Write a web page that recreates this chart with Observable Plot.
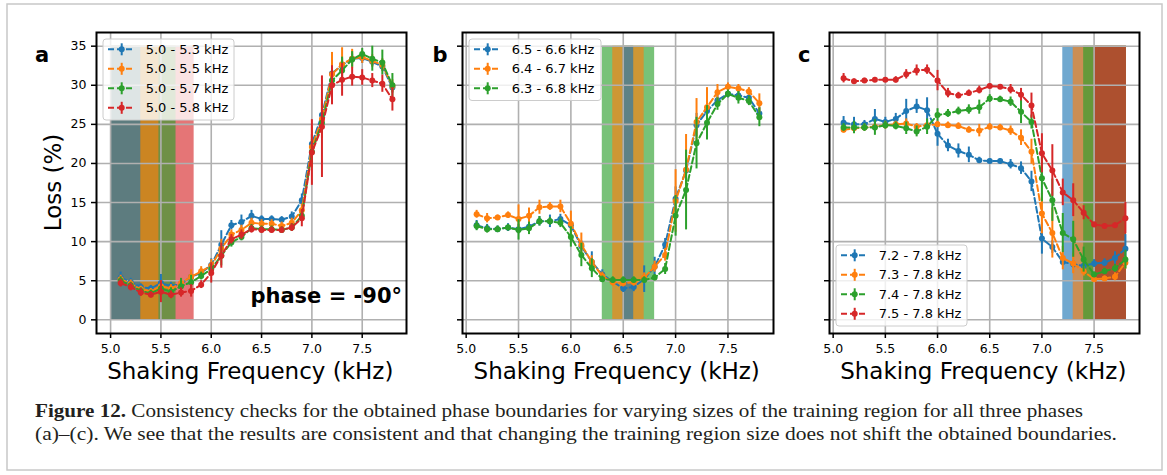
<!DOCTYPE html>
<html><head><meta charset="utf-8">
<script src="https://cdn.jsdelivr.net/npm/d3@7"></script>
<script src="https://cdn.jsdelivr.net/npm/@observablehq/plot@0.6"></script>
<style>
body{margin:0;background:#fff;}
#fig{position:relative;width:1167px;height:475px;overflow:hidden;background:#fff;}
#fig svg{position:absolute;}
</style></head><body><div id="fig"></div><script>
// ---------- data ----------
const freq = [5.1,5.2,5.3,5.4,5.5,5.6,5.7,5.8,5.9,6.0,6.1,6.2,6.3,6.4,6.5,6.6,6.7,6.8,6.9,7.0,7.1,7.2,7.3,7.4,7.5,7.6,7.7,7.8];
const xTicks = [5.0,5.5,6.0,6.5,7.0,7.5];
const yTicks = [0,5,10,15,20,25,30,35];
const colors = ["#1f77b4","#ff7f0e","#2ca02c","#d62728"];
const shadeLow = 0, shadeHigh = 35;

// panel a
const aSeries = ["5.0 - 5.3 kHz","5.0 - 5.5 kHz","5.0 - 5.7 kHz","5.0 - 5.8 kHz"];
const aRegionStart = [5.0,5.0,5.0,5.0];
const aRegionEnd = [5.3,5.48,5.65,5.83];
const aBlue   = [5.4,4.8,4.2,4.0,4.7,4.3,4.6,5.5,6.0,7.0,9.6,12.1,12.5,13.3,12.9,12.9,12.8,13.2,15.3,22.5,26.2,31.5,32.6,33.4,33.5,33.0,32.4,29.7];
const aBlueErr= [0.7,0.5,0.4,0.4,1.1,0.5,0.5,0.6,0.5,0.8,1.8,0.6,0.9,0.7,0.4,0.4,0.4,0.6,0.8,1.2,1.5,1.0,0.8,0.6,0.7,0.6,0.6,0.7];
const aOrange = [5.2,4.6,3.9,3.6,4.3,4.0,4.7,5.5,6.2,6.9,9.1,10.9,11.5,12.4,12.3,12.3,12.0,12.4,14.0,22.1,25.7,31.4,32.7,33.4,33.6,33.1,32.6,29.9];
const aOrangeErr=[0.5,0.5,0.4,0.4,0.7,0.5,0.6,0.9,0.6,0.8,1.2,0.6,0.6,0.6,0.5,0.5,0.5,0.6,0.8,2.6,2.5,2.8,2.1,1.2,0.8,0.8,0.8,0.8];
const aGreen  = [5.0,4.4,3.7,3.4,4.0,3.6,4.3,4.8,5.6,6.5,8.2,9.9,10.6,11.7,11.6,11.6,11.5,11.8,13.3,21.5,25.2,30.6,31.9,33.3,34.0,33.4,32.9,30.0];
const aGreenErr=[0.5,0.4,0.4,0.4,0.6,0.5,1.0,0.9,0.5,0.6,1.3,0.6,0.5,0.5,0.4,0.4,0.4,0.5,0.7,1.6,1.4,1.5,1.7,1.0,0.7,1.6,1.6,1.5];
const aRed    = [4.7,4.2,3.5,3.2,3.6,3.2,3.5,3.7,4.5,6.0,8.2,10.3,10.9,11.6,11.5,11.5,11.5,11.8,13.0,21.4,24.7,30.0,30.7,31.1,31.0,30.6,30.2,28.2];
const aRedErr = [0.5,0.5,0.5,0.4,1.4,0.5,0.6,0.8,0.5,1.3,1.6,0.6,0.6,0.5,0.4,0.4,0.4,0.5,1.1,4.2,6.5,2.5,2.1,1.2,1.0,0.9,1.1,1.5];

// panel b
const bSeries = ["6.5 - 6.6 kHz","6.4 - 6.7 kHz","6.3 - 6.8 kHz"];
const bRegionStart = [6.5,6.4,6.3];
const bRegionEnd = [6.6,6.7,6.8];
const bBlue   = [12.1,11.7,11.6,11.8,11.6,11.9,12.6,12.6,12.9,12.1,9.4,7.4,5.8,4.9,4.0,4.2,5.2,6.8,9.6,15.5,19.1,24.9,26.7,28.1,28.9,28.7,28.4,26.4];
const bBlueErr= [0.6,0.5,0.4,0.5,0.6,0.5,0.6,0.8,0.6,0.6,0.7,1.3,0.6,0.5,0.5,0.6,1.7,1.2,0.8,1.5,1.5,1.5,1.0,0.8,0.5,0.5,0.7,0.8];
const bOrange = [13.5,13.0,13.1,13.4,12.9,13.3,14.4,14.5,14.5,12.3,9.6,7.4,5.6,4.8,4.7,4.8,5.4,6.8,8.3,15.2,19.2,25.3,27.2,29.1,29.8,29.6,29.2,27.7];
const bOrangeErr=[0.5,0.6,0.3,0.4,1.8,1.0,0.9,0.5,0.8,1.6,1.5,0.8,0.5,0.5,0.5,0.5,0.6,0.7,0.8,4.0,4.5,3.0,2.5,1.0,0.5,0.5,0.5,1.2];
const bGreen  = [12.0,11.6,11.6,11.8,11.5,11.7,12.6,12.6,12.4,10.6,8.3,6.6,5.2,5.1,5.1,5.1,5.1,5.4,6.5,13.3,16.6,22.6,25.2,27.6,28.9,28.4,28.0,25.9];
const bGreenErr=[0.6,0.5,0.4,0.4,1.3,0.8,0.6,0.5,0.6,1.3,1.5,1.2,0.4,0.4,0.4,0.4,0.4,0.4,0.7,2.6,5.1,3.3,2.2,0.8,0.5,0.8,0.6,1.2];

// panel c
const cSeries = ["7.2 - 7.8 kHz","7.3 - 7.8 kHz","7.4 - 7.8 kHz","7.5 - 7.8 kHz"];
const cRegionStart = [7.2,7.3,7.4,7.5];
const cRegionEnd = [7.81,7.81,7.81,7.81];
const cBlue   = [25.2,25.0,25.0,25.7,25.3,25.7,26.7,27.3,26.8,23.8,22.3,21.6,21.1,20.4,20.3,20.3,19.9,19.4,17.7,10.4,9.3,7.4,7.1,6.9,7.2,7.3,7.9,9.1];
const cBlueErr= [0.8,0.9,0.5,1.2,0.6,0.7,1.5,0.9,1.6,1.6,0.8,0.9,1.0,0.4,0.3,0.3,0.6,0.8,1.3,2.0,0.8,0.5,0.5,0.4,0.5,0.5,0.8,1.8];
const cOrange = [24.3,24.5,24.6,24.7,24.9,25.0,25.1,24.7,24.9,25.0,24.9,24.8,24.3,24.2,24.7,24.6,24.2,23.3,21.5,13.6,11.1,7.9,7.2,6.2,5.2,5.3,5.5,7.3];
const cOrangeErr=[0.4,0.4,0.4,0.4,0.5,0.4,0.6,0.4,0.4,0.4,0.4,0.4,0.4,0.8,0.4,0.4,0.6,1.0,1.6,2.6,3.2,1.5,1.3,0.6,0.3,0.3,0.5,0.8];
const cGreen  = [24.6,24.6,24.6,24.6,24.9,24.8,24.5,24.1,24.7,26.2,26.4,26.7,26.9,27.2,28.3,28.2,27.9,26.6,25.3,18.1,15.3,11.1,10.3,7.7,5.8,6.2,6.6,7.7];
const cGreenErr=[0.5,0.8,0.5,1.0,0.5,0.5,0.8,0.7,1.0,0.8,0.5,0.5,0.6,0.9,0.5,0.4,0.6,1.5,0.9,3.0,2.7,2.5,2.3,1.6,0.3,0.4,0.5,1.2];
const cRed    = [30.9,30.5,30.6,30.7,30.7,30.7,31.4,31.9,32.0,30.6,29.0,28.7,29.0,29.4,29.9,29.8,29.5,28.8,27.4,21.3,19.1,16.3,15.3,13.7,12.2,12.0,12.1,13.0];
const cRedErr = [0.6,0.3,0.3,0.3,0.3,0.4,0.6,0.7,0.6,1.3,0.6,0.4,0.4,0.5,0.3,0.3,0.6,0.8,1.6,2.5,3.3,1.7,2.1,0.9,0.3,0.3,0.3,2.0];

// ---------- drawing ----------
const fig = document.getElementById("fig");
const yDomain = [-1.75, 36.75];

function makePanel(cfg) {
  const regions = cfg.series.map((s, i) => ({series: s, color: colors[i], x1: cfg.regionStart[i], x2: cfg.regionEnd[i], y1: shadeLow, y2: shadeHigh}))
    .sort((p, q) => (q.x2 - q.x1) - (p.x2 - p.x1));
  const seriesMarks = cfg.series.flatMap((s, i) => {
    const d = freq.map((f, j) => ({x: f, y: cfg.values[i][j], e: cfg.errors[i][j]}));
    return [
      Plot.line(d, {x: "x", y: "y", stroke: colors[i], strokeWidth: 2, strokeDasharray: "6,3"}),
      Plot.ruleX(d, {x: "x", y1: r => r.y - r.e, y2: r => r.y + r.e, stroke: colors[i], strokeWidth: 2}),
      Plot.dot(d, {x: "x", y: "y", r: 3, fill: colors[i], stroke: "none"})
    ];
  });
  const svg = Plot.plot({
    width: cfg.width, height: 380,
    marginLeft: cfg.ml, marginRight: cfg.mr, marginTop: 32, marginBottom: 47,
    style: {fontFamily: "DejaVu Sans", fontSize: "12.5px", background: "transparent", color: "#000", overflow: "visible"},
    x: {domain: cfg.xDomain},
    y: {domain: yDomain},
    color: {type: "identity"},
    marks: [
      Plot.rect(regions, {x1: "x1", x2: "x2", y1: "y1", y2: "y2", fill: "color", fillOpacity: 0.64}),
      Plot.gridX(xTicks, {stroke: "#b0b0b0", strokeOpacity: 1, strokeWidth: 1.6}),
      Plot.gridY(yTicks, {stroke: "#b0b0b0", strokeOpacity: 1, strokeWidth: 1.6}),
      ...seriesMarks,
      Plot.frame({stroke: "#000", strokeWidth: 2}),
      Plot.axisX(xTicks, {tickFormat: d3.format(".1f"), tickSize: 5, tickPadding: 6, label: null, strokeWidth: 1.5, fontSize: 12.5}),
      Plot.axisY(yTicks, {tickFormat: cfg.showY ? (d => String(d)) : (() => ""), tickSize: 5, tickPadding: 5, label: null, strokeWidth: 1.5, fontSize: 12.5})
    ]
  });
  svg.style.left = cfg.left + "px";
  svg.style.top = "0px";
  fig.appendChild(svg);
}

makePanel({left: 0, width: 420, ml: 96, mr: 14, xDomain: [4.86, 7.94], series: aSeries,
  regionStart: aRegionStart, regionEnd: aRegionEnd,
  values: [aBlue, aOrange, aGreen, aRed], errors: [aBlueErr, aOrangeErr, aGreenErr, aRedErr], showY: true});
makePanel({left: 420, width: 360, ml: 42, mr: 7, xDomain: [4.965, 7.935], series: bSeries,
  regionStart: bRegionStart, regionEnd: bRegionEnd,
  values: [bBlue, bOrange, bGreen], errors: [bBlueErr, bOrangeErr, bGreenErr], showY: false});
makePanel({left: 790, width: 360, ml: 39, mr: 11, xDomain: [4.965, 7.935], series: cSeries,
  regionStart: cRegionStart, regionEnd: cRegionEnd,
  values: [cBlue, cOrange, cGreen, cRed], errors: [cBlueErr, cOrangeErr, cGreenErr, cRedErr], showY: false});

// ---------- overlay: labels, legends, caption ----------
const ov = d3.select(fig).append("svg").attr("width", 1167).attr("height", 475)
  .style("left", "0px").style("top", "0px").style("font-family", "DejaVu Sans");

ov.append("rect").attr("x", 7).attr("y", 4).attr("width", 1155).attr("height", 466)
  .attr("fill", "none").attr("stroke", "#c8c8c8").attr("stroke-width", 1.5);

[["a", 35], ["b", 432.5], ["c", 798]].forEach(([t, x]) =>
  ov.append("text").attr("x", x).attr("y", 62).attr("font-size", 21).attr("font-weight", "bold").text(t));

ov.append("text").attr("transform", "translate(60.5,182.5) rotate(-90)").attr("text-anchor", "middle")
  .attr("font-size", 23).text("Loss (%)");
[250.3, 616.7, 983.3].forEach(cx =>
  ov.append("text").attr("x", cx).attr("y", 379).attr("text-anchor", "middle").attr("font-size", 23).text("Shaking Frequency (kHz)"));

ov.append("text").attr("x", 402).attr("y", 303).attr("text-anchor", "end").attr("font-size", 21)
  .attr("font-weight", "bold").text("phase = -90°");

function legend(x0, y0, w, labels) {
  ov.append("rect").attr("x", x0).attr("y", y0).attr("width", w).attr("height", labels.length * 19.5 + 3)
    .attr("rx", 3).attr("fill", "#fff").attr("fill-opacity", 0.8).attr("stroke", "#cccccc").attr("stroke-width", 1);
  labels.forEach((lab, i) => {
    const cy = y0 + 10.3 + i * 19.5;
    const g = ov.append("g");
    g.append("line").attr("x1", x0 + 5).attr("x2", x0 + 32).attr("y1", cy).attr("y2", cy)
      .attr("stroke", colors[i]).attr("stroke-width", 2).attr("stroke-dasharray", "6,3");
    g.append("line").attr("x1", x0 + 18.7).attr("x2", x0 + 18.7).attr("y1", cy - 6).attr("y2", cy + 6)
      .attr("stroke", colors[i]).attr("stroke-width", 2);
    g.append("circle").attr("cx", x0 + 18.7).attr("cy", cy).attr("r", 3).attr("fill", colors[i]);
    g.append("text").attr("x", x0 + 42.7).attr("y", cy).attr("dy", "0.36em").attr("font-size", 13)
      .attr("fill", "#000").text(lab);
  });
}
legend(103, 39, 131, aSeries);
legend(469, 39, 132, bSeries);
legend(836, 245, 131, cSeries);

const cap = ov.append("g").attr("font-family", "Liberation Serif").attr("fill", "#231f20").attr("font-size", 19);
const l1 = cap.append("text").attr("x", 35).attr("y", 417).attr("textLength", 1048).attr("lengthAdjust", "spacingAndGlyphs");
l1.append("tspan").attr("font-weight", "bold").text("Figure 12.");
l1.append("tspan").text(" Consistency checks for the obtained phase boundaries for varying sizes of the training region for all three phases");
cap.append("text").attr("x", 35).attr("y", 440).attr("textLength", 1082).attr("lengthAdjust", "spacingAndGlyphs")
  .text("(a)–(c). We see that the results are consistent and that changing the training region size does not shift the obtained boundaries.");
</script></body></html>
